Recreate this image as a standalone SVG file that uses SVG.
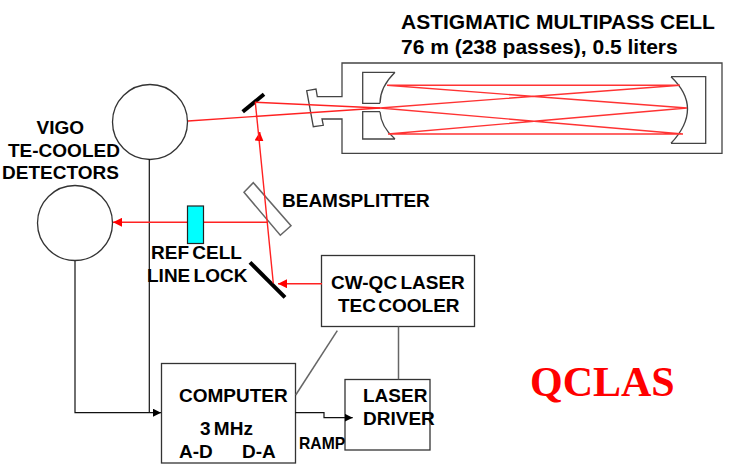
<svg xmlns="http://www.w3.org/2000/svg" width="731" height="468" viewBox="0 0 731 468">
<style>
text{font-family:"Liberation Sans",Arial,sans-serif;font-weight:700;font-size:19px;fill:#000}
.sm{font-size:15.7px}
.tt{font-size:21px}
.box{fill:#fff;stroke:#333;stroke-width:1.3}
.g{fill:none;stroke:#444;stroke-width:1.3}
.gr{fill:none;stroke:#666;stroke-width:1.5}
.k{fill:none;stroke:#111;stroke-width:1.2}
.r{fill:none;stroke:#f22;stroke-width:1.4}
.rp{fill:none;stroke:#f33;stroke-width:1.4}
.m{fill:none;stroke:#000;stroke-width:4}
</style>
<defs>
<marker id="ar" markerUnits="userSpaceOnUse" markerWidth="9" markerHeight="9" refX="9" refY="4.5" orient="auto"><path d="M0 0L9 4.5L0 9Z" fill="#f00"/></marker>
<marker id="ak" markerUnits="userSpaceOnUse" markerWidth="8" markerHeight="8" refX="8" refY="4" orient="auto"><path d="M0 0L8 4L0 8Z" fill="#000"/></marker>
</defs>
<g id="multipass-cell">
<path class="g" d="M342 63V96.7H317.3L316 89L306.7 90.7L313.3 126.7L323.3 125.3L322 119H342V153.3H722V63Z"/>
<path class="g" d="M395 72.3H362.7V103.3H380M380 103.3Q380 87 395 72.3"/>
<path class="g" d="M395 139H362.7V111.7H380M380 111.7Q381 127 395 139"/>
<path class="g" d="M671 76.7H705.7V143.3H671M671 76.7Q704 108 671 143.3"/>
<path class="rp" d="M387 85.3H680M387 85.3L687 108M680 85.3L380 108L683 134M687 108L388 134H683"/>
<text class="tt" x="401" y="28.5">ASTIGMATIC MULTIPASS CELL</text>
<text class="tt" x="401" y="54">76 m (238 passes), 0.5 liters</text>
</g>
<g id="detector-top"><circle cx="150" cy="122" r="37.5" class="box"/></g>
<g id="detector-ref">
<circle cx="75" cy="223" r="37.5" class="box"/>
<text x="36.5" y="133.5">VIGO</text>
<text x="8" y="156.5">TE-COOLED</text>
<text x="2" y="178.5">DETECTORS</text>
</g>
<g id="mirror-top"><path class="m" d="M242.7 111.7L264 94.3"/></g>
<g id="mirror-bottom"><path class="m" d="M250 262.3L285 297.3"/></g>
<g id="beamsplitter">
<path class="gr" style="fill:#fff" d="M244 192.3L253.3 182.7L291 225.7L280.3 235.3Z"/>
<text x="282" y="207">BEAMSPLITTER</text>
</g>
<g id="laser">
<rect class="box" x="321.5" y="255.5" width="153" height="71"/>
<text x="331" y="288.5" word-spacing="-2">CW-QC LASER</text>
<text x="338" y="311.5" word-spacing="-3">TEC COOLER</text>
</g>
<g id="computer">
<rect class="box" x="161.5" y="363.5" width="134" height="99.5"/>
<text x="179" y="401.5">COMPUTER</text>
<text x="200" y="435" word-spacing="-2">3 MHz</text>
<text x="179" y="457.5">A-D</text>
<text x="242" y="457.5">D-A</text>
</g>
<g id="driver">
<rect class="box" x="345" y="379.5" width="85" height="70.5"/>
<text x="363" y="401.5">LASER</text>
<text x="363" y="425">DRIVER</text>
<text class="sm" x="299" y="448.5">RAMP</text>
</g>
<g id="connectors">
<path class="k" d="M149.3 159V412.7"/>
<path class="k" d="M75 261V412.7H161" marker-end="url(#ak)"/>
<path class="k" d="M295 412.7H324V417.7H352.7" marker-end="url(#ak)"/>
<path class="gr" d="M295.7 395L337.3 330.7"/>
<path class="gr" d="M398.5 326.5V379.3"/>
<path class="r" d="M322 283.7H278" marker-end="url(#ar)"/>
<path class="r" d="M273.3 283.3L259.1 140L259.8 132" marker-end="url(#ar)"/>
<path class="r" d="M259.1 140L255.3 102.3"/>
<path class="r" d="M267.7 222.3H113" marker-end="url(#ar)"/>
<path class="r" d="M188 121L380 108"/>
<path class="r" d="M255 102.3L380 108"/>
</g>
<g id="ref-cell">
<rect x="187.5" y="206" width="16" height="37.5" fill="#0ff" stroke="#222" stroke-width="1.2"/>
<text x="151" y="259" word-spacing="-2">REF CELL</text>
<text x="147" y="282" word-spacing="-2">LINE LOCK</text>
</g>
<text x="530" y="396" style="font-family:'Liberation Serif',serif;font-size:42px;fill:#f00">QCLAS</text>
</svg>
